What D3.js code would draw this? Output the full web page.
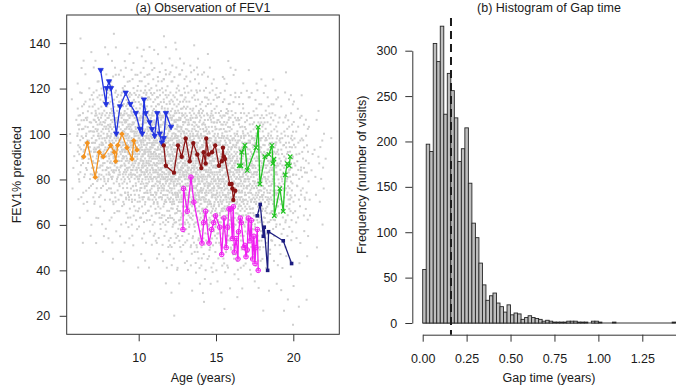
<!DOCTYPE html>
<html><head><meta charset="utf-8">
<script src="https://cdn.jsdelivr.net/npm/d3@7"></script>
<style>
html,body{margin:0;padding:0;background:#fff;}
svg{display:block;font-family:"Liberation Sans",Arial,sans-serif;}
</style></head>
<body>
<svg id="c" width="676" height="392"></svg>
<script>
// ---------------- DATA ----------------
const cloudAgeBins = [5,6,7,8,9,10,11,12,13,14,15,16,17,18,19,20,21,22];
const cloudFevBands = [140,130,120,110,100,90,80,70,60,50,40,30,20,10];
const cloudCounts = [
  [0,1,0,1,0,0,1,1,0,0,0,0,0,0,0,0,0,0],
  [0,2,2,3,4,5,5,4,3,1,1,0,0,0,0,0,0,0],
  [0,4,6,9,11,12,13,12,9,7,5,3,3,2,1,0,0,0],
  [1,10,18,22,26,28,27,25,20,16,13,10,9,8,6,3,1,0],
  [3,22,36,44,50,55,52,48,42,36,30,25,22,18,13,8,3,0],
  [3,25,42,52,60,68,68,64,60,55,50,45,40,34,25,14,5,1],
  [2,16,30,40,50,60,65,70,68,64,60,56,50,42,30,16,5,1],
  [1,8,14,20,28,36,44,52,58,58,55,50,45,38,25,12,4,0],
  [0,4,6,8,12,16,22,28,34,38,38,35,30,25,16,7,2,0],
  [0,2,3,4,6,7,10,14,17,20,20,18,15,12,8,4,1,0],
  [0,0,1,2,2,3,4,7,9,10,10,9,8,6,4,2,0,0],
  [0,0,0,0,0,0,1,2,3,4,4,3,3,2,2,1,0,0],
  [0,0,0,0,0,0,0,1,0,1,1,1,0,1,2,2,0,0],
  [0,0,0,0,0,0,0,0,0,0,0,0,0,1,1,0,0,0]
];
// Highlighted individual trajectories [age, FEV1%]
const trajOrange = [[6.44,90],[6.68,96],[7.19,81],[7.45,92],[7.71,90],[8.19,95],[8.42,92],[8.51,88],[8.64,95],[8.92,100],[9.24,94],[9.57,89],[9.68,97],[9.89,93]];
const trajBlue = [[7.54,128],[7.89,113],[7.93,120],[8.08,123],[8.21,120],[8.55,100],[8.79,112],[9.16,118],[9.46,113],[9.81,109],[10.08,102],[10.23,100],[10.34,115],[10.45,109],[10.71,105],[10.86,102],[11.03,99],[11.2,109],[11.36,100],[11.5,96],[11.62,98],[11.76,109],[12.09,103]];
const trajDarkred = [[11.62,95],[11.76,86],[12.28,83],[12.54,95],[12.78,90],[13.04,98],[13.3,88],[13.53,96],[13.79,91],[14.05,85],[14.2,92],[14.33,87],[14.37,98],[14.52,91],[14.74,92],[14.95,95],[15.19,86],[15.37,88],[15.45,94],[15.51,90],[15.58,89],[15.89,78],[16.01,78],[16.06,76],[16.12,71],[16.24,75]];
const trajGreen = [[16.5,86],[16.61,86],[16.66,92],[16.87,95],[17.02,84],[17.58,94],[17.73,103],[17.84,78],[18.16,90],[18.42,91],[18.62,95],[18.68,87],[18.75,89],[18.77,64],[19.13,76],[19.35,66],[19.48,82],[19.61,87],[19.74,86],[19.8,90]];
const trajMagenta = [[12.86,58],[12.9,76],[13.14,66],[13.38,81],[13.57,70],[14.09,52],[14.2,61],[14.33,66],[14.55,52],[14.72,58],[14.85,61],[14.97,64],[15.24,59],[15.37,47],[15.51,63],[15.66,50],[15.75,59],[15.84,67],[15.95,67],[16.05,54],[16.12,68],[16.18,48],[16.31,54],[16.42,45],[16.46,57],[16.57,63],[16.63,61],[16.81,50],[16.87,51],[16.94,46],[17.02,49],[17.09,63],[17.2,53],[17.28,62],[17.37,45],[17.45,55],[17.52,43],[17.58,50],[17.67,58],[17.73,40]];
const trajNavy = [[17.67,64],[17.86,69],[18.06,55],[18.12,59],[18.34,40],[18.4,57],[19.35,53],[19.89,43]];
const ageTicks = [10,15,20];
const fevTicks = [20,40,60,80,100,120,140];

// Panel (b): histogram of gap time, bins of width 0.02 from 0
const gapBinWidth = 0.02;
const gapCounts = [59,197,189,308,288,327,230,275,256,226,178,192,215,154,
  110,94,66,42,25,30,33,22,18,12,20,9,11,10,4,6,8,6,5,4,2,3,2,
  1,1,1,1,2,2,2,1,1,1,0,2,2,1,0,0,0,1,0,0,0,0,0,0,0,0,0,0,0,0,0,0,0,0,1];
const gapMedian = 0.161;
const gapAxisMax = 1.5;
const gapTicks = [0,0.25,0.5,0.75,1,1.25];
const gapTickLabels = ["0.00","0.25","0.50","0.75","1.00","1.25"];
const freqTicks = [0,50,100,150,200,250,300];

// ---------------- DRAW ----------------
const svg = d3.select("#c");
const FONT = 12.5, TXT = "#1a1a1a";

// Panel (a) scales
const L = {x0:66.7, x1:339.3, y0:15, y1:334.3};
const xL = d3.scaleLinear().domain([5.343,22.975]).range([L.x0,L.x1]);
const yL = d3.scaleLinear().domain([11.86,152.37]).range([L.y1,L.y0]);

svg.append("clipPath").attr("id","clipL").append("rect")
  .attr("x",L.x0).attr("y",L.y0).attr("width",L.x1-L.x0).attr("height",L.y1-L.y0);

function halton(i,b){let f=1,r=0;while(i>0){f/=b;r+=f*(i%b);i=Math.floor(i/b);}return r;}
const cloud = [];
cloudFevBands.forEach((f,ri)=>{
  cloudAgeBins.forEach((a,ci)=>{
    const n = cloudCounts[ri][ci];
    const s = (ri*cloudAgeBins.length+ci)*53+7;
    for(let i=0;i<n;i++){
      cloud.push([a+halton(i+s,2), f+Math.floor(halton(i+s,3)*10)+halton(i+s,5)*0.3]);
    }
  });
});
const gL = svg.append("g").attr("clip-path","url(#clipL)");
gL.selectAll("rect.pt").data(cloud).join("rect").attr("class","pt")
  .attr("x",d=>xL(d[0])-1).attr("y",d=>yL(d[1])-1).attr("width",2).attr("height",2)
  .attr("fill","#cfcfcf");

const line = d3.line().x(d=>xL(d[0])).y(d=>yL(d[1]));
function traj(data,color,marker){
  const g = svg.append("g");
  g.append("path").datum(data).attr("d",line).attr("fill","none").attr("stroke",color).attr("stroke-width",1.3);
  const m = g.selectAll("g.m").data(data).join("g").attr("transform",d=>`translate(${xL(d[0])},${yL(d[1])})`);
  marker(m,color);
}
const mkCircle=(m,c)=>m.append("circle").attr("r",2.2).attr("fill",c);
const mkDiamond=(m,c)=>m.append("path").attr("d","M0,-2.8L2.8,0L0,2.8L-2.8,0Z").attr("fill",c);
const mkTri=(m,c)=>m.append("path").attr("d","M-2.6,-2L2.6,-2L0,2.6Z").attr("fill",c).attr("stroke",c).attr("stroke-width",0.8);
const mkX=(m,c)=>m.append("path").attr("d","M-2.2,-2.2L2.2,2.2M-2.2,2.2L2.2,-2.2").attr("stroke",c).attr("stroke-width",1.2);
const mkCirPlus=(m,c)=>{m.append("circle").attr("r",2.3).attr("fill","none").attr("stroke",c).attr("stroke-width",1);
  m.append("path").attr("d","M-2.3,0L2.3,0M0,-2.3L0,2.3").attr("stroke",c).attr("stroke-width",0.8);};
const mkSquare=(m,c)=>m.append("rect").attr("x",-1.8).attr("y",-1.8).attr("width",3.6).attr("height",3.6).attr("fill",c);

traj(trajOrange,"#f39320",mkDiamond);
traj(trajBlue,"#2233e0",mkTri);
traj(trajDarkred,"#8b1414",mkCircle);
traj(trajGreen,"#22c422",mkX);
traj(trajMagenta,"#f020f0",mkCirPlus);
traj(trajNavy,"#1c1c80",mkSquare);

// box
svg.append("rect").attr("x",L.x0).attr("y",L.y0).attr("width",L.x1-L.x0).attr("height",L.y1-L.y0)
  .attr("fill","none").attr("stroke","#333").attr("stroke-width",1);

function styleAxis(g){
  g.select(".domain").remove();
  g.selectAll(".tick line").attr("stroke","#333");
  g.selectAll(".tick text").attr("font-size",FONT).attr("font-family","Liberation Sans, Arial, sans-serif").attr("fill",TXT);
}
svg.append("g").attr("transform",`translate(0,${L.y1})`)
  .call(d3.axisBottom(xL).tickValues(ageTicks).tickSize(7).tickPadding(12).tickFormat(d3.format("d")))
  .call(styleAxis);
svg.append("g").attr("transform",`translate(${L.x0},0)`)
  .call(d3.axisLeft(yL).tickValues(fevTicks).tickSize(7).tickPadding(9.5).tickFormat(d3.format("d")))
  .call(styleAxis);

svg.append("text").attr("x",(L.x0+L.x1)/2).attr("y",11.5).attr("text-anchor","middle")
  .attr("font-size",FONT).attr("fill",TXT).text("(a) Observation of FEV1");
svg.append("text").attr("x",(L.x0+L.x1)/2).attr("y",381.5).attr("text-anchor","middle")
  .attr("font-size",FONT).attr("fill",TXT).text("Age (years)");
svg.append("text").attr("transform",`translate(20.5,${(L.y0+L.y1)/2}) rotate(-90)`).attr("text-anchor","middle")
  .attr("font-size",FONT).attr("fill",TXT).text("FEV1% predicted");

// Panel (b)
const xR = d3.scaleLinear().domain([0,gapAxisMax]).range([422.7,422.7+gapAxisMax*175.68]);
const yR = d3.scaleLinear().domain([0,300]).range([323,50.7]);
const gR = svg.append("g");
const bins = gapCounts.map((c,i)=>({x0:i*gapBinWidth,x1:(i+1)*gapBinWidth,c}));
gR.append("line").attr("x1",xR(0)).attr("x2",xR(gapCounts.length*gapBinWidth)).attr("y1",yR(0)).attr("y2",yR(0))
  .attr("stroke","#333").attr("stroke-width",1);
gR.selectAll("rect.bar").data(bins.filter(b=>b.c>0)).join("rect").attr("class","bar")
  .attr("x",b=>xR(b.x0)).attr("width",b=>xR(b.x1)-xR(b.x0))
  .attr("y",b=>yR(b.c)).attr("height",b=>yR(0)-yR(b.c))
  .attr("fill","#bebebe").attr("stroke","#262626").attr("stroke-width",0.9);

svg.append("line").attr("x1",xR(gapMedian)).attr("x2",xR(gapMedian)).attr("y1",18).attr("y2",334.7)
  .attr("stroke","#1a1a1a").attr("stroke-width",2).attr("stroke-dasharray","8,5");

const axB = svg.append("g").attr("transform","translate(0,334.7)")
  .call(d3.axisBottom(xR).tickValues(gapTicks).tickSize(7).tickSizeOuter(0).tickPadding(12)
    .tickFormat((d,i)=>gapTickLabels[i]));
axB.select(".domain").attr("stroke","#333");
axB.selectAll(".tick line").attr("stroke","#333");
axB.selectAll(".tick text").attr("font-size",FONT).attr("font-family","Liberation Sans, Arial, sans-serif").attr("fill",TXT);
const axL = svg.append("g").attr("transform","translate(412.3,0)")
  .call(d3.axisLeft(yR).tickValues(freqTicks).tickSize(7).tickSizeOuter(0).tickPadding(8).tickFormat(d3.format("d")));
axL.select(".domain").attr("stroke","#333");
axL.selectAll(".tick line").attr("stroke","#333");
axL.selectAll(".tick text").attr("font-size",FONT).attr("font-family","Liberation Sans, Arial, sans-serif").attr("fill",TXT);

svg.append("text").attr("x",549).attr("y",11.5).attr("text-anchor","middle")
  .attr("font-size",FONT).attr("fill",TXT).text("(b) Histogram of Gap time");
svg.append("text").attr("x",549).attr("y",381.5).attr("text-anchor","middle")
  .attr("font-size",FONT).attr("fill",TXT).text("Gap time (years)");
svg.append("text").attr("transform",`translate(365.5,174.7) rotate(-90)`).attr("text-anchor","middle")
  .attr("font-size",FONT).attr("fill",TXT).text("Frequency (number of visits)");
</script>
</body></html>
